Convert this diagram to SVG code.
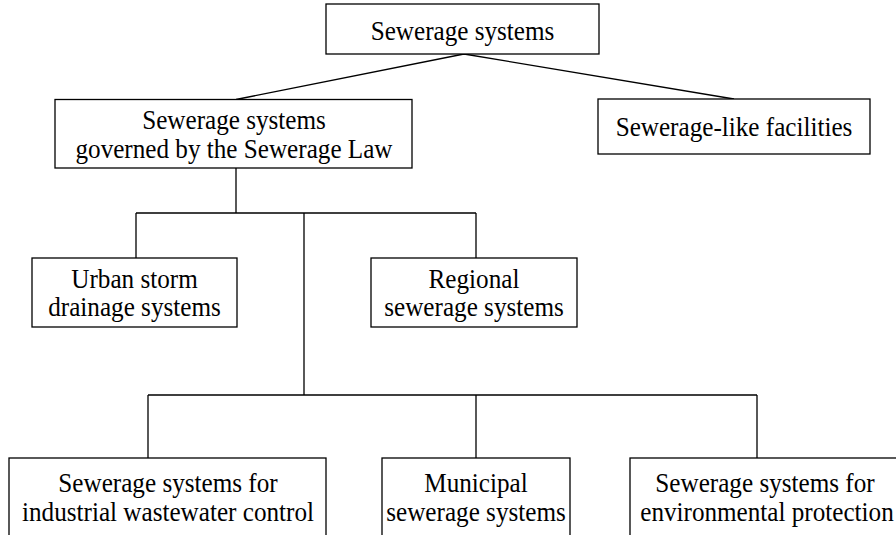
<svg xmlns="http://www.w3.org/2000/svg" width="896" height="535" viewBox="0 0 896 535">
<style>
.box{fill:#fff;stroke:#000;stroke-width:1.3}
.ln{fill:none;stroke:#000;stroke-width:1.3}
text{font-family:"Liberation Serif","Times New Roman",serif;font-size:27.5px;fill:#000;text-anchor:middle}
</style>
<rect width="896" height="535" fill="#fff"/>
<g id="connectors">
<path class="ln" d="M464 54 L236 99.5 M464 54 L734 99"/>
<path class="ln" d="M236 168 V213 M136 213 H476 M136 213 V258 M476 213 V258 M304 213 V395"/>
<path class="ln" d="M148 395 H757 M148 395 V458 M476 395 V458 M757 395 V458"/>
</g>
<g id="root"><rect class="box" x="326" y="4" width="273" height="50"/><text transform="translate(462.5,40) scale(0.915,1)">Sewerage systems</text></g>
<g id="law"><rect class="box" x="55" y="99.5" width="357" height="68.5"/><text transform="translate(234,129) scale(0.915,1)">Sewerage systems</text><text transform="translate(234,157.5) scale(0.915,1)">governed by the Sewerage Law</text></g>
<g id="like"><rect class="box" x="598" y="99" width="272" height="55"/><text transform="translate(734,136) scale(0.915,1)">Sewerage-like facilities</text></g>
<g id="urban"><rect class="box" x="32" y="258" width="205" height="69"/><text transform="translate(134.5,288) scale(0.915,1)">Urban storm</text><text transform="translate(134.5,316) scale(0.915,1)">drainage systems</text></g>
<g id="regional"><rect class="box" x="371" y="258" width="206" height="69"/><text transform="translate(474,288) scale(0.915,1)">Regional</text><text transform="translate(474,316) scale(0.915,1)">sewerage systems</text></g>
<g id="industrial"><rect class="box" x="9" y="458" width="317" height="90"/><text transform="translate(168,492) scale(0.915,1)">Sewerage systems for</text><text transform="translate(168,520.5) scale(0.915,1)">industrial wastewater control</text></g>
<g id="municipal"><rect class="box" x="382" y="458" width="188" height="90"/><text transform="translate(476,492) scale(0.915,1)">Municipal</text><text transform="translate(476,520.5) scale(0.915,1)">sewerage systems</text></g>
<g id="environmental"><rect class="box" x="630" y="458" width="290" height="90"/><text transform="translate(765,492) scale(0.915,1)">Sewerage systems for</text><text transform="translate(767,520.5) scale(0.915,1)">environmental protection</text></g>
</svg>
